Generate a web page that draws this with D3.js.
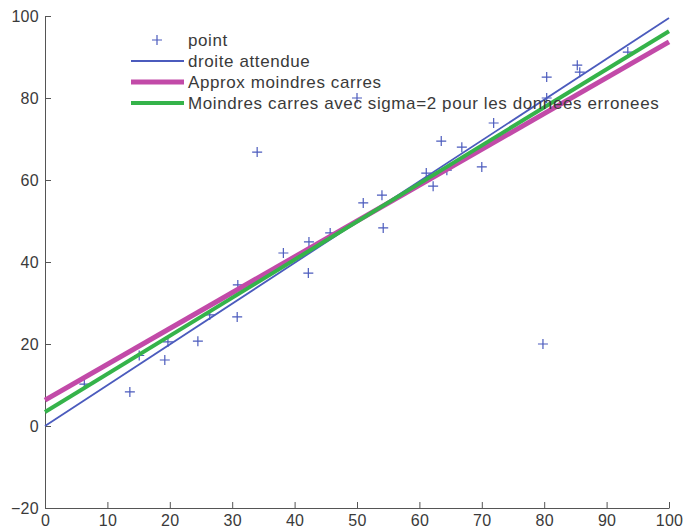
<!DOCTYPE html>
<html><head><meta charset="utf-8">
<script src="https://cdn.jsdelivr.net/npm/d3@7"></script>
<style>body{margin:0;background:#fff}text{font-family:"Liberation Sans",Arial,sans-serif}</style>
</head><body>
<svg id="c" width="686" height="531"></svg>
<script>
const pointX = [6.3, 13.6, 15.1, 19.2, 19.7, 24.5, 26.4, 30.8, 30.9, 34.0, 38.2, 42.2, 42.3, 45.7, 50.0, 51.0, 54.0, 54.2, 61.1, 62.2, 63.5, 64.4, 66.8, 70.0, 71.9, 79.8, 80.4, 80.4, 85.3, 85.7, 93.4];
const pointY = [10.2, 8.3, 17.2, 16.1, 20.5, 20.7, 27.1, 26.6, 34.4, 66.8, 42.2, 37.3, 44.9, 47.1, 80.0, 54.4, 56.3, 48.3, 61.7, 58.5, 69.5, 62.4, 68.0, 63.2, 73.9, 20.0, 85.1, 80.0, 88.0, 86.3, 91.2];
const lineX = [0, 100];
const expectedY = [0, 99.5];
const lsqY = [6.3, 93.7];
const robustY = [3.4, 96.3];
const xTicks = [0,10,20,30,40,50,60,70,80,90,100];
const yTicks = [-20,0,20,40,60,80,100];
const legendLabels = ["point","droite attendue","Approx moindres carres","Moindres carres avec sigma=2 pour les donnees erronees"];

const W=686,H=531,m={l:45,r:17,t:16,b:23};
const svg=d3.select("#c");
const x=d3.scaleLinear().domain([0,100]).range([m.l,W-m.r]);
const y=d3.scaleLinear().domain([-20,100]).range([H-m.b,m.t]);
const blue="#4b5bbd",mag="#c24aa8",green="#35b34a",txt="#3a3a3a";

const gx=svg.append("g").attr("transform",`translate(0,${H-m.b})`)
 .call(d3.axisBottom(x).tickValues(xTicks).tickSize(-6).tickSizeOuter(0).tickPadding(7));
const gy=svg.append("g").attr("transform",`translate(${m.l},0)`)
 .call(d3.axisLeft(y).tickValues(yTicks).tickSize(-6).tickSizeOuter(0).tickPadding(6).tickFormat(d=>d<0?"\u2212"+(-d):d));
[gx,gy].forEach(g=>{g.selectAll("path,line").attr("stroke","#555");g.selectAll("text").attr("fill",txt).style("font-size","16px").style("letter-spacing","0.3px");});

const pts=d3.range(pointX.length).map(i=>[pointX[i],pointY[i]]);
const cross=5;
svg.append("g").selectAll("path").data(pts).join("path")
 .attr("d",d=>`M${x(d[0])-cross},${y(d[1])}h${2*cross}M${x(d[0])},${y(d[1])-cross}v${2*cross}`)
 .attr("stroke",blue).attr("stroke-width",1.2).attr("fill","none");

const line=d3.line().x(d=>x(d[0])).y(d=>y(d[1]));
const series=[[expectedY,blue,1.8],[lsqY,mag,5],[robustY,green,4]];
series.forEach(([ys,c,w])=>{
 svg.append("path").datum(lineX.map((v,i)=>[v,ys[i]])).attr("d",line).attr("stroke",c).attr("stroke-width",w).attr("fill","none");
});

const lg=svg.append("g");
const rowY=[40,61,82,103];
lg.append("path").attr("d",`M${157-cross},${rowY[0]}h${2*cross}M157,${rowY[0]-cross}v${2*cross}`).attr("stroke",blue).attr("stroke-width",1.2);
series.forEach(([ys,c,w],i)=>{
 lg.append("line").attr("x1",131).attr("x2",184).attr("y1",rowY[i+1]).attr("y2",rowY[i+1]).attr("stroke",c).attr("stroke-width",w);
});
legendLabels.forEach((t,i)=>{
 lg.append("text").attr("x",188).attr("y",rowY[i]).attr("dy","0.35em").attr("fill",txt).style("font-size","17px").style("letter-spacing","0.6px").text(t);
});
</script>
</body></html>
